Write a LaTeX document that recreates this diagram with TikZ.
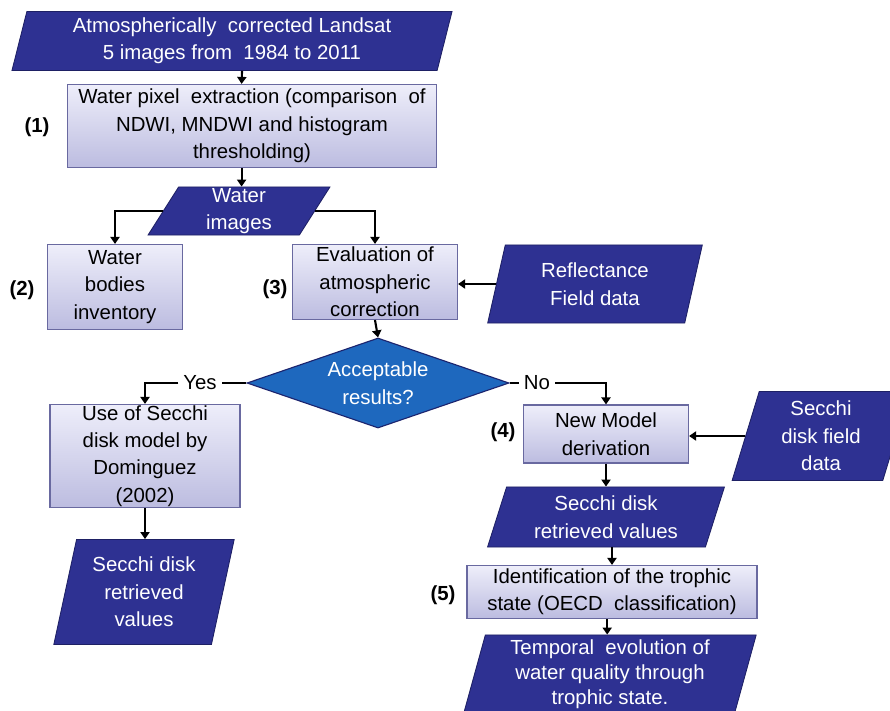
\documentclass[tikz,border=0pt]{standalone}
\usepackage{fontspec}
\setmainfont{Liberation Sans}
\usetikzlibrary{shapes.geometric,arrows.meta}
\definecolor{navy}{RGB}{46,49,146}
\definecolor{navyline}{RGB}{30,32,100}
\definecolor{boxtop}{RGB}{238,238,250}
\definecolor{boxbot}{RGB}{188,188,224}
\definecolor{boxline}{RGB}{105,105,160}
\definecolor{diamfill}{RGB}{30,104,190}
\definecolor{diamline}{RGB}{28,36,110}

\begin{document}
\begin{tikzpicture}[x=0.025cm,y=-0.025cm,
  font=\fontsize{14.5}{19.5}\selectfont,
  databox/.style={trapezium,trapezium left angle=76,trapezium right angle=104,
    trapezium stretches=true,fill=navy,draw=navyline,line width=0.6pt,
    text=white,align=center,inner sep=0pt},
  procbox/.style={rectangle,top color=boxtop,bottom color=boxbot,draw=boxline,
    line width=0.8pt,align=center,inner sep=0pt},
  arr/.style={-{Triangle[length=5pt,width=6.5pt]},line width=1.5pt},
  tag/.style={font=\fontsize{14.5}{19.5}\selectfont\bfseries}]
\path[use as bounding box] (0,0) rectangle (890,711);

% data (parallelograms)
\node[databox,minimum width=11.03cm,minimum height=1.475cm] (landsat) at (232,41)
  {Atmospherically\ \ corrected Landsat\\5 images from\ \ 1984 to 2011};
\node[databox,trapezium left angle=70,trapezium right angle=110,
  minimum width=4.55cm,minimum height=1.2cm] (water) at (239,211) {Water\\images};
\node[databox,minimum width=5.375cm,minimum height=1.95cm] (refl) at (595,284)
  {Reflectance\\Field data};
\node[databox,minimum width=4.55cm,minimum height=2.625cm] (secl) at (144,592)
  {Secchi disk\\retrieved\\values};
\node[databox,minimum width=4.45cm,minimum height=2.225cm] (field) at (821,436)
  {Secchi\\disk field\\data};
\node[databox,trapezium left angle=72,trapezium right angle=108,
  minimum width=5.925cm,minimum height=1.5cm] (secr) at (606,517)
  {Secchi disk\\retrieved values};
\node[databox,minimum width=7.325cm,minimum height=1.95cm,
  font=\fontsize{14.5}{17.8}\selectfont] (temporal) at (610,674)
  {Temporal\ \ evolution of\\water quality through\\trophic state.};

% processes
\node[procbox,minimum width=9.225cm,minimum height=2.075cm] (pix) at (252,126)
  {Water pixel\ \ extraction (comparison\ \ of\\NDWI, MNDWI and histogram\\thresholding)};
\node[procbox,minimum width=3.375cm,minimum height=2.125cm] (bodies) at (115,287)
  {Water\\bodies\\inventory};
\node[procbox,minimum width=4.125cm,minimum height=1.875cm] (evalbox) at (375,282)
  {Evaluation of\\atmospheric\\correction};
\node[procbox,minimum width=4.75cm,minimum height=2.575cm] (usebox) at (145,456)
  {Use of Secchi\\disk model\ by\\Dominguez\\(2002)};
\node[procbox,minimum width=4.125cm,minimum height=1.45cm] (newmodel) at (606,434)
  {New Model\\derivation};
\node[procbox,minimum width=7.25cm,minimum height=1.325cm] (trophic) at (612,592)
  {Identification of the trophic\\state (OECD\ \ classification)};

% decision
\node[diamond,aspect=2.9,inner sep=0pt,minimum width=6.55cm,minimum height=2.25cm,
  fill=diamfill,draw=diamline,line width=0.8pt,text=white,align=center] (accept) at (378,383)
  {Acceptable\\results?};

% step numbers
\node[tag] (t1) at (37,127) {(1)};
\node[tag] (t2) at (22,290) {(2)};
\node[tag] (t3) at (275,289) {(3)};
\node[tag] (t4) at (503,432) {(4)};
\node[tag] (t5) at (443,595) {(5)};

\node (yes) at (200,383) {Yes};
\node (no) at (537,383) {No};

% connectors
\draw[arr] ([xshift=0.25cm]landsat.south) -- ([xshift=-0.26cm]pix.north);
\draw[arr] ([xshift=-0.26cm]pix.south) -- ([xshift=-0.26cm]pix.south |- water.north);
\draw[arr] (water.west) -| (bodies.north);
\draw[arr] (water.east) -| (evalbox.north);
\draw[arr] (refl.west) -- (refl.west -| evalbox.east);
\draw[arr] (evalbox.south) -- (accept.north);
\draw[line width=1.5pt] (accept.west) -- (yes.east);
\draw[arr] (yes.west) -| (usebox.north);
\draw[line width=1.5pt] (accept.east) -- (no.west);
\draw[arr] (no.east) -| (newmodel.north);
\draw[arr] (usebox.south) -- (usebox.south |- secl.north);
\draw[arr] (field.west) -- (field.west -| newmodel.east);
\draw[arr] (newmodel.south) -- (newmodel.south |- secr.north);
\draw[arr] (trophic.north |- secr.south) -- (trophic.north);
\draw[arr] ([xshift=-0.12cm]trophic.south) -- ([xshift=-0.12cm]trophic.south |- temporal.north);
\end{tikzpicture}
\end{document}
